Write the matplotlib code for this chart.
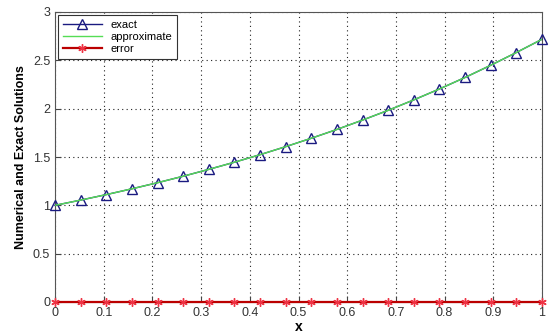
import matplotlib
matplotlib.use("Agg")
import matplotlib.pyplot as plt

plt.rcParams['font.family'] = ['Liberation Sans', 'DejaVu Sans']

x = [0.0, 0.0526, 0.1053, 0.1579, 0.2105, 0.2632, 0.3158, 0.3684, 0.4211, 0.4737,
     0.5263, 0.5789, 0.6316, 0.6842, 0.7368, 0.7895, 0.8421, 0.8947, 0.9474, 1.0]
exact = [1.000, 1.054, 1.111, 1.171, 1.234, 1.301, 1.372, 1.446, 1.524, 1.607,
         1.694, 1.785, 1.882, 1.983, 2.091, 2.204, 2.323, 2.449, 2.581, 2.718]
approx = [1.000, 1.054, 1.111, 1.171, 1.234, 1.301, 1.372, 1.446, 1.524, 1.607,
          1.694, 1.785, 1.882, 1.983, 2.091, 2.204, 2.323, 2.449, 2.581, 2.718]
error = [0.0] * 20

fig = plt.figure(figsize=(5.54, 3.33), dpi=100)
ax = fig.add_axes([55/554, 31/333, 487/554, 290/333])

ax.plot(x, exact, color='#1a1a80', marker='^', markersize=7, markerfacecolor='none',
        markeredgecolor='#1a1a80', linewidth=1, label='exact', zorder=3, clip_on=False)
ax.plot(x, approx, color='#55dd55', linewidth=1, label='approximate', zorder=3)
ax.plot(x, error, color='#bb0000', marker=(6, 2, 0), markersize=6, markeredgecolor='#ee3344',
        markeredgewidth=1.0, linewidth=1.6, label='error', zorder=4, clip_on=False)

ax.set_xlim(0, 1)
ax.set_ylim(0, 3)
ax.set_xticks([0, 0.1, 0.2, 0.3, 0.4, 0.5, 0.6, 0.7, 0.8, 0.9, 1])
ax.set_xticklabels(['0', '0.1', '0.2', '0.3', '0.4', '0.5', '0.6', '0.7', '0.8', '0.9', '1'])
ax.set_yticks([0, 0.5, 1, 1.5, 2, 2.5, 3])
ax.set_yticklabels(['0', '0.5', '1', '1.5', '2', '2.5', '3'])
ax.tick_params(direction='in', labelsize=9, length=4, color='#444444', labelcolor='#333333')
ax.grid(True, linestyle=(0, (1, 3)), color='#222222', linewidth=0.8)
for s in ax.spines.values():
    s.set_color('#555555')

ax.set_xlabel('x', fontsize=10, fontweight='bold', labelpad=1)
ax.set_ylabel('Numerical and Exact Solutions', fontsize=9, fontweight='bold', labelpad=4)

leg = ax.legend(loc='upper left', fontsize=8, fancybox=False, edgecolor='#333333',
                framealpha=1, borderaxespad=0.3, handlelength=3.5, labelspacing=0.2)
leg.get_frame().set_linewidth(0.8)

fig.savefig('out.png', dpi=100)
